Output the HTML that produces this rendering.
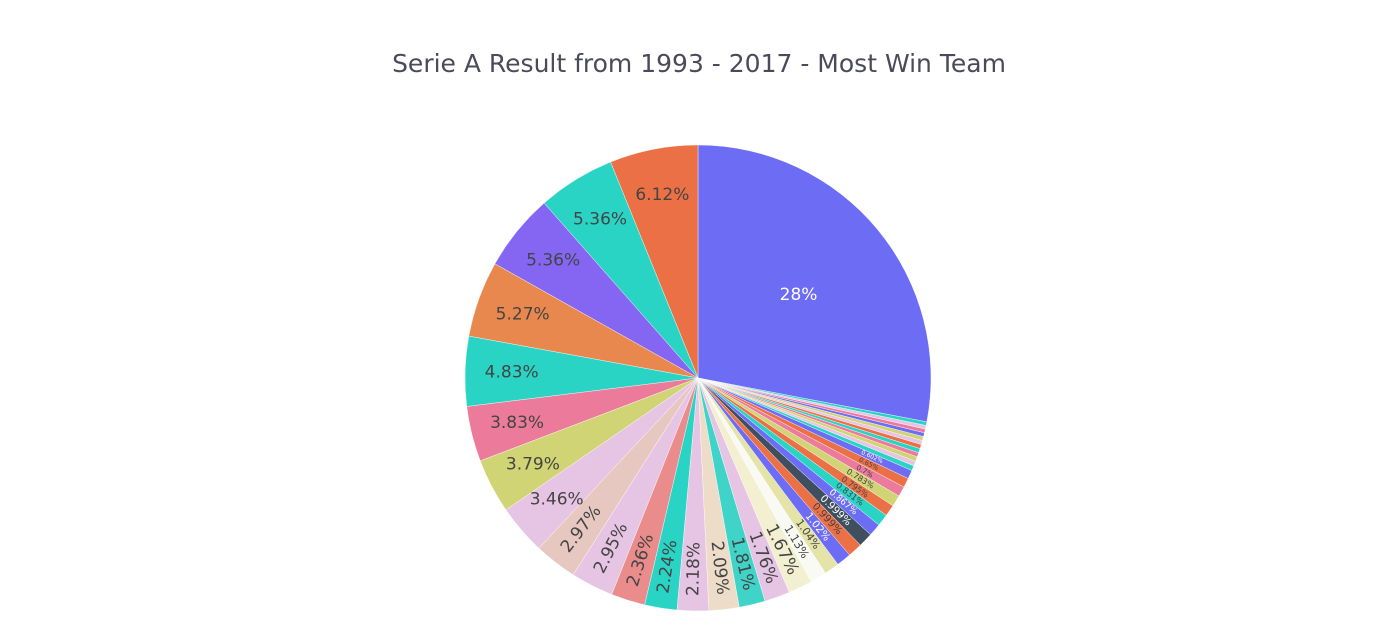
<!DOCTYPE html>
<html><head><meta charset="utf-8"><style>
body{margin:0;background:#fff;}
svg{display:block;font-family:"DejaVu Sans","Liberation Sans",sans-serif;}
</style></head><body>
<svg id="chart" width="1400" height="635" viewBox="0 0 1400 635">
<rect width="1400" height="635" fill="#fff"/>
<text x="699" y="72" text-anchor="middle" font-size="25" fill="#4a4a5a">Serie A Result from 1993 - 2017 - Most Win Team</text>
<g id="slices"></g>
<g id="labels"></g>
</svg>
<script>
const values = [28,6.12,5.36,5.36,5.27,4.83,3.83,3.79,3.46,2.97,2.95,2.36,2.24,2.18,2.09,1.81,1.76,1.67,1.13,1.04,1.02,0.999,0.999,0.867,0.831,0.795,0.783,0.7,0.65,0.602,0.35,0.33,0.32,0.3,0.3,0.29,0.28,0.28,0.27,0.26,0.25,0.25];
const labels = ["28%","6.12%","5.36%","5.36%","5.27%","4.83%","3.83%","3.79%","3.46%","2.97%","2.95%","2.36%","2.24%","2.18%","2.09%","1.81%","1.76%","1.67%","1.13%","1.04%","1.02%","0.999%","0.999%","0.867%","0.831%","0.795%","0.783%","0.7%","0.65%","0.602%","0.35%","0.33%","0.32%","0.3%","0.3%","0.29%","0.28%","0.28%","0.27%","0.26%","0.25%","0.25%"];
const colors = ["#6c6cf4","#ec7045","#2ad4c4","#8466f2","#e8884e","#2ad4c4","#ec7a9a","#d0d474","#e6c4e4","#e6c8c0","#e6c4e4","#eb8c8c","#2ad4c4","#e6c4e4","#ecdcc8","#40d4c8","#e6c4e4","#f2f0d0","#fafaf4","#e4e4a8","#6c6cf4","#ec7045","#3f4f5f","#6c6cf4","#2ad4c4","#ec7045","#d0d474","#ec7a9a","#ec7045","#6c6cf4","#2ad4c4","#e6c4e4","#d0d474","#ec7a9a","#2ad4c4","#ec7045","#e6c4e4","#d0d474","#6c6cf4","#ec7a9a","#e6c4e4","#2ad4c4"];
const cx=698, cy=378, R=233;
const NS="http://www.w3.org/2000/svg";
const total = values.reduce((a,b)=>a+b,0);
function pt(aDeg,r){const a=aDeg*Math.PI/180;return [cx+r*Math.sin(a), cy-r*Math.cos(a)];}
const gS=document.getElementById('slices'), gL=document.getElementById('labels');
let cum=0;
values.forEach((v,i)=>{
  const sweep=v/total*360;
  let a0,a1;
  if(i===0){a0=0;a1=sweep;}
  else {a1=cum; a0=cum-sweep; cum=a0;}
  const [x0,y0]=pt(a0,R),[x1,y1]=pt(a1,R);
  const p=document.createElementNS(NS,'path');
  p.setAttribute('d',`M${cx},${cy}L${x0},${y0}A${R},${R} 0 ${sweep>180?1:0} 1 ${x1},${y1}Z`);
  p.setAttribute('fill',colors[i%colors.length]);
  p.setAttribute('stroke','#fff');p.setAttribute('stroke-width','0.4');
  
  
  gS.appendChild(p);
  const mid=(a0+a1)/2;
  const t=document.createElementNS(NS,'text');
  
  
  t.textContent=labels[i];
  t.setAttribute('text-anchor','middle');
  t.setAttribute('dominant-baseline','central');
  const c=colors[i%colors.length];
  t.setAttribute('fill', i===0?'#fff':(c==='#3f4f5f'||c==='#6c6cf4'?'#fff':'#444'));
  if(v>=3.4){
    const [tx,ty]=pt(mid, i===0?R*0.56:R*0.8);
    t.setAttribute('x',tx);t.setAttribute('y',ty);
    t.setAttribute('font-size','17');
    gL.appendChild(t);
  } else {
    const rt=R*0.82;
    const arc=sweep*Math.PI/180*rt;
    const fs=Math.min(17,arc*0.85);
    if(fs<5.5) return;
    const w=fs*0.6*labels[i].length;
    const rr=Math.min(R-w/2-6, rt);
    const [tx,ty]=pt(mid,rr);
    let rot=mid-90;
    while(rot>90) rot-=180;
    while(rot<=-90) rot+=180;
    t.setAttribute('x',tx);t.setAttribute('y',ty);
    t.setAttribute('font-size',fs.toFixed(1));
    t.setAttribute('transform',`rotate(${rot} ${tx} ${ty})`);
    gL.appendChild(t);
  }
});
</script>
</body></html>
